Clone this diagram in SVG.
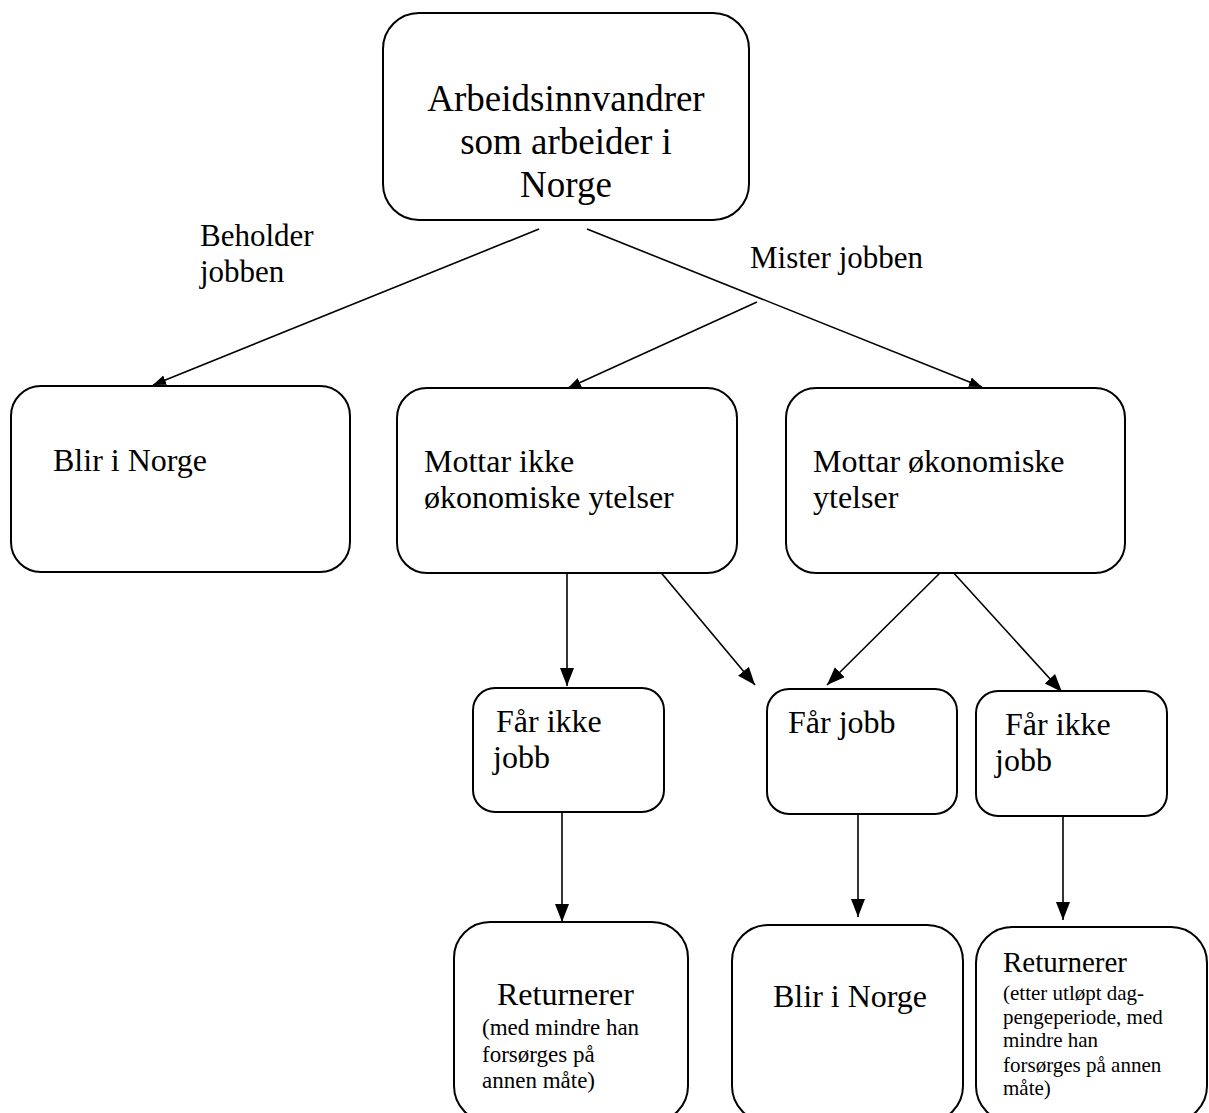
<svg xmlns="http://www.w3.org/2000/svg" width="1209" height="1113" viewBox="0 0 1209 1113">
<defs>
<style>
.box{fill:#fff;stroke:#000;stroke-width:2}
.t{font-family:"Liberation Serif","Times New Roman",serif;fill:#000}
.c{stroke:#000;stroke-width:1.6;fill:none}
.s{marker-end:url(#ah)}
.b{marker-end:url(#ab)}
</style>
<marker id="ah" markerUnits="userSpaceOnUse" markerWidth="14" markerHeight="12" refX="13" refY="5" orient="auto"><path d="M0,0 L13,5 L0,10 z" fill="#000"/></marker>
<marker id="ab" markerUnits="userSpaceOnUse" markerWidth="20" markerHeight="16" refX="18" refY="7" orient="auto"><path d="M0,0 L18,7 L0,14 z" fill="#000"/></marker>
</defs>
<rect width="1209" height="1113" fill="#fff"/>
<g id="connectors">
<line class="c s" x1="539" y1="229" x2="153" y2="385"/>
<line class="c s" x1="587" y1="229" x2="982" y2="387"/>
<line class="c s" x1="757" y1="302" x2="568" y2="388"/>
<line class="c b" x1="567" y1="573" x2="567" y2="686"/>
<line class="c b" x1="658" y1="569" x2="755" y2="685"/>
<line class="c b" x1="948" y1="565" x2="827" y2="685"/>
<line class="c b" x1="951" y1="570" x2="1062" y2="692"/>
<line class="c b" x1="562" y1="812" x2="562" y2="922"/>
<line class="c b" x1="858" y1="814" x2="858" y2="917"/>
<line class="c b" x1="1063" y1="816" x2="1063" y2="920"/>
</g>
<g id="labels">
<text class="t" font-size="31" x="200" y="246">Beholder</text>
<text class="t" font-size="31" x="200" y="282">jobben</text>
<text class="t" font-size="31" x="750" y="268">Mister jobben</text>
</g>
<g id="n-top">
<rect class="box" x="383" y="13" width="366" height="207" rx="36"/>
<text class="t" font-size="37" text-anchor="middle" x="566" y="111">Arbeidsinnvandrer</text>
<text class="t" font-size="37" text-anchor="middle" x="566" y="154">som arbeider i</text>
<text class="t" font-size="37" text-anchor="middle" x="566" y="197">Norge</text>
</g>
<g id="n-blir1">
<rect class="box" x="11" y="386" width="339" height="186" rx="30"/>
<text class="t" font-size="32" x="53" y="471">Blir i Norge</text>
</g>
<g id="n-mottar-ikke">
<rect class="box" x="397" y="388" width="340" height="185" rx="30"/>
<text class="t" font-size="32" x="424" y="472">Mottar ikke</text>
<text class="t" font-size="32" x="424" y="508">økonomiske ytelser</text>
</g>
<g id="n-mottar">
<rect class="box" x="786" y="388" width="339" height="185" rx="30"/>
<text class="t" font-size="32" x="813" y="472">Mottar økonomiske</text>
<text class="t" font-size="32" x="813" y="508">ytelser</text>
</g>
<g id="n-far-ikke1">
<rect class="box" x="473" y="688" width="191" height="124" rx="22"/>
<text class="t" font-size="32" x="496" y="732">Får ikke</text>
<text class="t" font-size="32" x="493" y="768">jobb</text>
</g>
<g id="n-far-jobb">
<rect class="box" x="767" y="689" width="190" height="125" rx="22"/>
<text class="t" font-size="32" x="788" y="733">Får jobb</text>
</g>
<g id="n-far-ikke2">
<rect class="box" x="976" y="691" width="191" height="125" rx="22"/>
<text class="t" font-size="32" x="1005" y="735">Får ikke</text>
<text class="t" font-size="32" x="995" y="771">jobb</text>
</g>
<g id="n-ret1">
<rect class="box" x="454" y="922" width="234" height="200" rx="36"/>
<text class="t" font-size="32" x="497" y="1005">Returnerer</text>
<text class="t" font-size="23" x="482" y="1035">(med mindre han</text>
<text class="t" font-size="23" x="482" y="1062">forsørges på</text>
<text class="t" font-size="23" x="482" y="1088">annen måte)</text>
</g>
<g id="n-blir2">
<rect class="box" x="732" y="925" width="231" height="197" rx="36"/>
<text class="t" font-size="32" x="773" y="1007">Blir i Norge</text>
</g>
<g id="n-ret2">
<rect class="box" x="976" y="927" width="231" height="195" rx="36"/>
<text class="t" font-size="29" x="1003" y="972">Returnerer</text>
<text class="t" font-size="21" x="1003" y="1000">(etter utløpt dag-</text>
<text class="t" font-size="21" x="1003" y="1024">pengeperiode, med</text>
<text class="t" font-size="21" x="1003" y="1047">mindre han</text>
<text class="t" font-size="21" x="1003" y="1072">forsørges på annen</text>
<text class="t" font-size="21" x="1003" y="1095">måte)</text>
</g>
</svg>
